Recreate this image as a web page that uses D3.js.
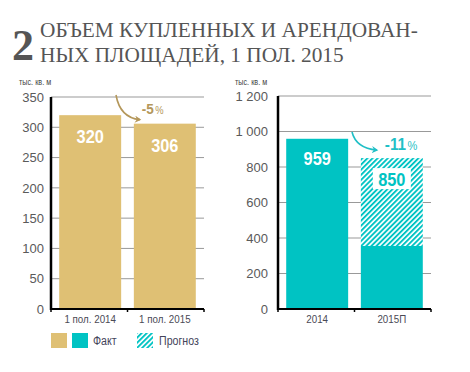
<!DOCTYPE html>
<html>
<head>
<meta charset="utf-8">
<script src="https://cdn.jsdelivr.net/npm/d3@7"></script>
<style>
  body { margin: 0; background: #fff; }
  svg { display: block; }
</style>
</head>
<body>
<div id="chart"></div>
<script>
// Data
const leftCats = ["1 пол. 2014", "1 пол. 2015"];
const leftValues = [320, 306];
const leftTicks = [0, 50, 100, 150, 200, 250, 300, 350];

const rightCats = ["2014", "2015П"];
const rightFact = [959, 355];      // solid part
const rightTotal = [959, 850];     // fact + forecast
const rightTicks = [0, 200, 400, 600, 800, 1000, 1200];

const gold = "#dfc074";
const goldDark = "#b4975a";
const teal = "#00c3c3";
const sans = "'Liberation Sans', Arial, sans-serif";

// no narrow font installed, so squeeze Arial-like text horizontally
function squeeze(sel, k) {
  sel.each(function() {
    const w = this.getComputedTextLength();
    d3.select(this).attr("textLength", w * k).attr("lengthAdjust", "spacingAndGlyphs");
  });
}

const svg = d3.select("#chart").append("svg")
  .attr("width", 470)
  .attr("height", 372);

// hatch pattern for the forecast part
const defs = svg.append("defs");
defs.append("pattern")
  .attr("id", "hatch")
  .attr("patternUnits", "userSpaceOnUse")
  .attr("width", 3.6).attr("height", 3.6)
  .attr("patternTransform", "rotate(45)")
  .call(p => {
    p.append("rect").attr("width", 3.6).attr("height", 3.6).attr("fill", "#fff");
    p.append("rect").attr("width", 1.9).attr("height", 3.6).attr("fill", teal);
  });

["gold", "teal"].forEach(function(k) {
  defs.append("marker")
    .attr("id", "arrow-" + k)
    .attr("viewBox", "0 0 10 10")
    .attr("refX", 7).attr("refY", 5)
    .attr("markerWidth", 4.5).attr("markerHeight", 4.5)
    .attr("orient", "auto")
    .append("path")
    .attr("d", "M0,0 L9,5 L0,10 L3,5 Z")
    .attr("fill", k == "gold" ? goldDark : "#1fbfc6");
});

// Title
svg.append("text")
  .attr("x", 12).attr("y", 60)
  .style("font-family", "'Liberation Serif', 'DejaVu Serif', serif")
  .style("font-weight", "bold")
  .style("font-size", "44px")
  .attr("fill", "#555")
  .text("2");
const title = svg.append("text")
  .style("font-family", "'Liberation Serif', 'DejaVu Serif', serif")
  .style("font-size", "21.3px")
  .attr("fill", "#555");
title.append("tspan").attr("x", 40).attr("y", 37).text("ОБЪЕМ КУПЛЕННЫХ И АРЕНДОВАН-");
title.append("tspan").attr("x", 40).attr("y", 62).text("НЫХ ПЛОЩАДЕЙ, 1 ПОЛ. 2015");

// Generic panel drawer
function panel(opts) {
  const g = svg.append("g");
  const x = d3.scaleBand()
    .domain(opts.cats)
    .range([opts.x0, opts.x1])
    .paddingInner(0.17)
    .paddingOuter(0.11);
  const y = d3.scaleLinear()
    .domain([0, opts.max])
    .range([309, opts.top]);

  // unit label
  g.append("text")
    .attr("x", opts.unitX).attr("y", 85)
    .style("font-family", sans)
    .style("font-size", "8.5px")
    .attr("fill", "#444")
    .text("тыс. кв. м")
    .call(squeeze, 0.85);

  // grid
  g.selectAll(".grid")
    .data(opts.ticks.filter(d => d > 0))
    .enter().append("line")
      .attr("x1", opts.x0).attr("x2", opts.x1)
      .attr("y1", d => y(d)).attr("y2", d => y(d))
      .attr("stroke", "#999")
      .attr("stroke-width", 1);

  // tick labels
  g.selectAll(".tl")
    .data(opts.ticks)
    .enter().append("text")
      .attr("x", opts.x0 - opts.labelGap)
      .attr("y", d => y(d))
      .attr("dy", "0.36em")
      .attr("text-anchor", "end")
      .style("font-family", sans)
      .style("font-size", "13px")
      .attr("fill", "#5a5a5a")
      .text(opts.fmt);

  opts.bars(g, x, y);

  // axes
  g.append("line")
    .attr("x1", opts.x0).attr("x2", opts.x0)
    .attr("y1", y(opts.max)).attr("y2", 310)
    .attr("stroke", "#000").attr("stroke-width", 2.5);
  g.append("line")
    .attr("x1", opts.x0 - 1).attr("x2", opts.x1)
    .attr("y1", 309).attr("y2", 309)
    .attr("stroke", "#000").attr("stroke-width", 2);
  const edges = [opts.x0, (opts.x0 + opts.x1) / 2, opts.x1];
  g.selectAll(".tk")
    .data(edges)
    .enter().append("line")
      .attr("x1", d => d).attr("x2", d => d)
      .attr("y1", 309).attr("y2", 312)
      .attr("stroke", "#000").attr("stroke-width", 1.5);

  // category labels
  g.selectAll(".cl")
    .data(opts.cats)
    .enter().append("text")
      .attr("x", d => x(d) + x.bandwidth() / 2)
      .attr("y", 323)
      .attr("text-anchor", "middle")
      .style("font-family", sans)
      .style("font-size", "11.5px")
      .attr("fill", "#4a4a55")
      .text(d => d)
      .call(squeeze, 0.85);

  return { x: x, y: y, g: g };
}

function valueLabel(g, cx, y, text, color) {
  g.append("text")
    .attr("x", cx).attr("y", y)
    .attr("text-anchor", "middle")
    .style("font-family", sans)
    .style("font-weight", "bold")
    .style("font-size", "19px")
    .attr("fill", color)
    .text(text)
    .call(squeeze, 0.86);
}

// Left panel
const L = panel({
  cats: leftCats, x0: 51, x1: 204, max: 350, top: 97,
  ticks: leftTicks, labelGap: 7, unitX: 19,
  fmt: d => d,
  bars: function(g, x, y) {
    g.selectAll(".bar")
      .data(leftValues)
      .enter().append("rect")
        .attr("x", (d, i) => x(leftCats[i]))
        .attr("width", x.bandwidth())
        .attr("y", d => y(d))
        .attr("height", d => 309 - y(d))
        .attr("fill", gold);
    leftValues.forEach(function(d, i) {
      valueLabel(g, x(leftCats[i]) + x.bandwidth() / 2, y(d) + 28, d, "#fff");
    });
  }
});

// Right panel
const fmtSpace = d => d >= 1000 ? d3.format(",")(d).replace(",", " ") : d;
const R = panel({
  cats: rightCats, x0: 278, x1: 431, max: 1200, top: 96,
  ticks: rightTicks, labelGap: 10, unitX: 235,
  fmt: fmtSpace,
  bars: function(g, x, y) {
    // forecast (hatched) part
    g.selectAll(".fc")
      .data(rightTotal)
      .enter().append("rect")
        .attr("x", (d, i) => x(rightCats[i]))
        .attr("width", x.bandwidth())
        .attr("y", d => y(d))
        .attr("height", (d, i) => y(rightFact[i]) - y(d))
        .attr("fill", "url(#hatch)");
    g.selectAll(".fact")
      .data(rightFact)
      .enter().append("rect")
        .attr("x", (d, i) => x(rightCats[i]))
        .attr("width", x.bandwidth())
        .attr("y", d => y(d))
        .attr("height", d => 309 - y(d))
        .attr("fill", teal);
    const bx0 = x(rightCats[0]) + x.bandwidth() / 2;
    valueLabel(g, bx0, y(rightTotal[0]) + 26, rightTotal[0], "#fff");
    const bx1 = x(rightCats[1]) + x.bandwidth() / 2;
    g.append("rect")
      .attr("x", bx1 - 19).attr("y", y(rightTotal[1]) + 10)
      .attr("width", 38).attr("height", 21)
      .attr("fill", "#fff");
    valueLabel(g, bx1, y(rightTotal[1]) + 28, rightTotal[1], teal);
  }
});

// change annotations: curved arrow plus "-N%" text
function change(p, color, marker, label, size, tx, ty, start, tip) {
  p.g.append("path")
    .attr("d", "M" + start[0] + "," + start[1] +
      " Q" + (start[0] + 4) + "," + (tip[1] - 2) + " " + tip[0] + "," + tip[1])
    .attr("fill", "none")
    .attr("stroke", color)
    .attr("stroke-width", 1.6)
    .attr("marker-end", "url(#" + marker + ")");
  const num = p.g.append("text")
    .attr("x", tx).attr("y", ty)
    .style("font-family", sans)
    .style("font-weight", "bold")
    .style("font-size", size + "px")
    .attr("fill", color)
    .text(label)
    .call(squeeze, 0.9);
  const w = +num.attr("textLength");
  p.g.append("text")
    .attr("x", tx + w + 1.5).attr("y", ty)
    .style("font-family", sans)
    .style("font-size", (size - 4) + "px")
    .attr("fill", color)
    .text("%")
    .call(squeeze, 0.85);
}
const l1 = L.x(leftCats[1]);
change(L, goldDark, "arrow-gold", "-5", 15, l1 + 8, L.y(leftValues[1]) - 10,
  [116, 95], [l1 + 6, L.y(leftValues[1]) - 4]);
const r1 = R.x(rightCats[1]);
change(R, "#1fbfc6", "arrow-teal", "-11", 17, r1 + 24, R.y(rightTotal[1]) - 8,
  [352, 132], [r1 + 16, R.y(rightTotal[1]) - 8]);

// legend
const leg = svg.append("g");
leg.append("rect").attr("x", 51).attr("y", 333).attr("width", 16).attr("height", 15).attr("fill", gold);
leg.append("rect").attr("x", 72).attr("y", 333).attr("width", 16).attr("height", 15).attr("fill", teal);
leg.append("text").attr("x", 93).attr("y", 345)
  .style("font-family", sans).style("font-size", "12.5px").attr("fill", "#44445a").text("Факт")
  .call(squeeze, 0.85);
leg.append("rect").attr("x", 137).attr("y", 333).attr("width", 16).attr("height", 15).attr("fill", "url(#hatch)");
leg.append("text").attr("x", 159).attr("y", 345)
  .style("font-family", sans).style("font-size", "12.5px").attr("fill", "#44445a").text("Прогноз")
  .call(squeeze, 0.85);
</script>
</body>
</html>
